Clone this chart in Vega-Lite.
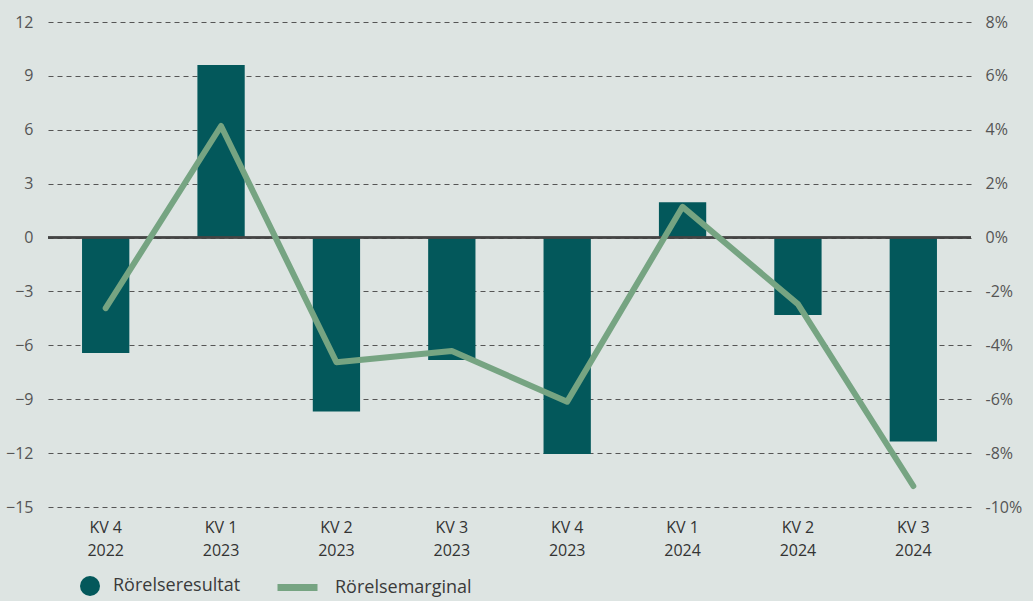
{
  "$schema": "https://vega.github.io/schema/vega-lite/v6.json",
  "autosize": {"type": "none"},
  "width": 923,
  "height": 485,
  "padding": {"left": 48, "top": 22, "right": 62, "bottom": 94},
  "background": "#dde4e2",
  "config": {
    "view": {"stroke": null},
    "font": "Open Sans",
    "axis": {"labelFont": "Open Sans", "labelColor": "#555555", "labelFontSize": 16, "domain": false, "ticks": false},
    "legend": {"labelFont": "Open Sans", "labelColor": "#3a3a3a", "labelFontSize": 18}
  },
  "data": {
    "values": [
      {"q": "KV 4|2022", "res": -6.43, "marg": -2.62},
      {"q": "KV 1|2023", "res": 9.6, "marg": 4.14},
      {"q": "KV 2|2023", "res": -9.69, "marg": -4.63},
      {"q": "KV 3|2023", "res": -6.82, "marg": -4.21},
      {"q": "KV 4|2023", "res": -12.05, "marg": -6.09},
      {"q": "KV 1|2024", "res": 1.97, "marg": 1.14},
      {"q": "KV 2|2024", "res": -4.31, "marg": -2.47},
      {"q": "KV 3|2024", "res": -11.36, "marg": -9.22}
    ]
  },
  "encoding": {
    "x": {
      "field": "q", "type": "nominal", "sort": null, "title": null,
      "scale": {"paddingInner": 0.59, "paddingOuter": 0.295},
      "axis": {"labelAngle": 0, "labelExpr": "split(datum.label, '|')", "labelPadding": 12, "labelLineHeight": 23, "labelFontSize": 16, "labelColor": "#333333"}
    }
  },
  "layer": [
    {
      "layer": [
        {
          "mark": {"type": "bar", "color": "#03585b"},
          "encoding": {
            "y": {
              "field": "res", "type": "quantitative", "title": null,
              "scale": {"domain": [-15, 12], "nice": false},
              "axis": {"values": [-15, -12, -9, -6, -3, 0, 3, 6, 9, 12], "grid": true, "gridDash": [5, 4], "gridColor": "#555555", "gridWidth": 1, "labelPadding": 15}
            },
            "fill": {
              "datum": "Rörelseresultat", "type": "nominal",
              "scale": {"range": ["#03585b"]},
              "legend": {"orient": "none", "legendX": 31, "legendY": 553, "title": null, "symbolType": "circle", "symbolSize": 400, "labelOffset": 12, "padding": 0}
            }
          }
        },
        {
          "mark": {"type": "rule", "color": "#444444", "strokeWidth": 1.5},
          "encoding": {"y": {"datum": 0, "type": "quantitative"}, "x": {}}
        }
      ]
    },
    {
      "mark": {"type": "line", "color": "#76a482", "strokeWidth": 6, "strokeCap": "round", "strokeJoin": "round"},
      "encoding": {
        "y": {
          "field": "marg", "type": "quantitative", "title": null,
          "scale": {"domain": [-10, 8], "nice": false},
          "axis": {"orient": "right", "values": [-10, -8, -6, -4, -2, 0, 2, 4, 6, 8], "labelExpr": "datum.value + '%'", "grid": false, "labelPadding": 14}
        },
        "stroke": {
          "datum": "Rörelsemarginal", "type": "nominal",
          "scale": {"range": ["#76a482"]},
          "legend": {"orient": "none", "legendX": 226, "legendY": 542, "title": null, "symbolType": "stroke", "symbolSize": 1600, "symbolStrokeWidth": 7, "labelOffset": 14, "padding": 0}
        }
      }
    }
  ],
  "resolve": {"scale": {"y": "independent", "fill": "independent", "stroke": "independent"}}
}
